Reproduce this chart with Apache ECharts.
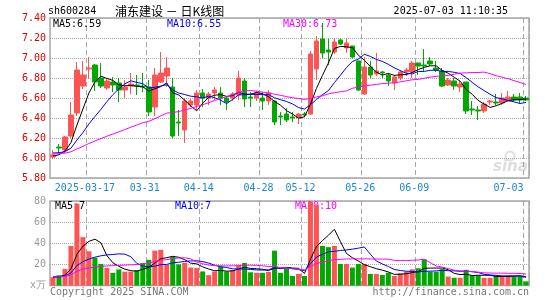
<!DOCTYPE html>
<html><head><meta charset="utf-8">
<script src="https://cdn.jsdelivr.net/npm/echarts@6/dist/echarts.min.js"></script>
<style>html,body{margin:0;padding:0;background:#fff}#c{width:545px;height:300px}</style>
</head><body><div id="c"></div>
<script>
const dates = ['2025-03-07','2025-03-10','2025-03-11','2025-03-12','2025-03-13','2025-03-14','2025-03-17','2025-03-18','2025-03-19','2025-03-20',
'2025-03-21','2025-03-24','2025-03-25','2025-03-26','2025-03-27','2025-03-28','2025-03-31','2025-04-01','2025-04-02','2025-04-03',
'2025-04-07','2025-04-08','2025-04-09','2025-04-10','2025-04-11','2025-04-14','2025-04-15','2025-04-16','2025-04-17','2025-04-18',
'2025-04-21','2025-04-22','2025-04-23','2025-04-24','2025-04-25','2025-04-28','2025-04-29','2025-04-30','2025-05-06','2025-05-07',
'2025-05-08','2025-05-09','2025-05-12','2025-05-13','2025-05-14','2025-05-15','2025-05-16','2025-05-19','2025-05-20','2025-05-21',
'2025-05-22','2025-05-23','2025-05-26','2025-05-27','2025-05-28','2025-05-29','2025-05-30','2025-06-03','2025-06-04','2025-06-05',
'2025-06-06','2025-06-09','2025-06-10','2025-06-11','2025-06-12','2025-06-13','2025-06-16','2025-06-17','2025-06-18','2025-06-19',
'2025-06-20','2025-06-23','2025-06-24','2025-06-25','2025-06-26','2025-06-27','2025-06-30','2025-07-01','2025-07-02','2025-07-03'];

const opens = [6.01,6.11,6.08,6.22,6.45,6.72,6.89,6.93,6.80,6.70,
 6.76,6.75,6.68,6.72,6.73,6.72,6.71,6.51,6.76,6.82,
 6.71,6.36,6.28,6.53,6.53,6.65,6.60,6.65,6.65,6.60,
 6.60,6.63,6.77,6.61,6.60,6.60,6.57,6.57,6.42,6.44,
 6.41,6.40,6.44,6.44,6.89,7.19,7.08,7.06,7.18,7.10,
 7.12,6.97,6.64,6.91,6.84,6.86,6.83,6.75,6.80,6.86,
 6.86,6.95,6.93,6.97,6.90,6.87,6.73,6.77,6.71,6.76,
 6.49,6.48,6.47,6.56,6.56,6.55,6.57,6.61,6.61,6.60];
const closes = [6.03,6.10,6.21,6.43,6.88,6.83,6.90,6.76,6.72,6.77,
 6.73,6.68,6.71,6.74,6.72,6.71,6.46,6.83,6.85,6.90,
 6.22,6.35,6.57,6.57,6.65,6.60,6.64,6.68,6.60,6.56,
 6.64,6.80,6.59,6.60,6.65,6.57,6.65,6.36,6.41,6.38,
 6.40,6.44,6.43,7.04,7.17,7.05,7.06,7.16,7.14,7.15,
 7.01,6.68,6.91,6.83,6.87,6.85,6.77,6.81,6.86,6.88,
 6.95,6.92,6.92,6.94,6.88,6.72,6.78,6.72,6.74,6.47,
 6.48,6.47,6.54,6.57,6.55,6.60,6.61,6.58,6.58,6.58];
const highs = [6.08,6.14,6.22,6.56,6.96,6.97,7.01,6.94,6.95,6.79,
 6.81,6.80,6.78,6.85,6.83,6.85,6.78,6.90,7.06,7.01,
 6.80,6.48,6.60,6.59,6.68,6.69,6.66,6.71,6.71,6.61,
 6.66,6.87,6.80,6.66,6.67,6.66,6.68,6.58,6.46,6.50,
 6.46,6.45,6.46,7.07,7.22,7.35,7.19,7.20,7.19,7.19,
 7.12,6.97,7.01,6.97,7.05,6.87,6.85,6.83,6.88,6.90,
 6.97,6.95,7.09,7.01,6.97,6.90,6.80,6.80,6.77,6.76,
 6.57,6.52,6.56,6.58,6.64,6.65,6.67,6.64,6.65,6.62];
const lows = [5.99,6.05,6.05,6.20,6.42,6.69,6.79,6.67,6.70,6.68,
 6.66,6.56,6.60,6.64,6.63,6.66,6.42,6.42,6.75,6.71,
 6.20,6.22,6.15,6.51,6.48,6.51,6.53,6.58,6.53,6.48,
 6.57,6.58,6.51,6.51,6.57,6.48,6.53,6.33,6.33,6.36,
 6.36,6.34,6.41,6.43,6.78,7.00,6.93,7.04,7.13,7.05,
 7.00,6.67,6.63,6.80,6.82,6.80,6.72,6.68,6.78,6.82,
 6.80,6.83,6.87,6.92,6.86,6.71,6.72,6.68,6.66,6.44,
 6.43,6.38,6.45,6.53,6.53,6.53,6.57,6.57,6.55,6.57];
const volumes = [7.8,9.7,15.7,37.4,77.5,45.8,32.4,26.3,20.4,16.6,
 12.0,15.2,13.1,13.1,14.5,21.2,24.3,33.0,33.8,19.5,
 27.5,20.0,21.5,17.0,16.5,13.3,9.8,13.3,18.3,13.3,
 14.5,19.0,21.3,12.5,12.0,12.0,12.8,33.0,12.0,16.0,
 9.0,11.0,9.0,79.0,76.0,37.5,36.3,37.5,20.4,20.4,
 17.0,20.4,20.4,10.9,10.9,9.9,12.1,9.0,11.5,13.1,
 15.3,16.3,24.8,13.1,13.0,15.5,8.5,7.3,7.3,14.8,
 9.5,9.5,7.2,7.2,9.3,9.5,9.5,8.0,8.3,3.9];
// closes / volumes before the first visible day (estimated from where the MA lines start)
const prevCloses = [6.02,6.05,6.01,6.04,6.06,6.03,6.00,6.02,6.05,6.07,6.04,6.01,6.03,6.06,6.04,6.02,6.05,6.03,6.04,6.04,6.07,6.10,6.09,6.06,6.08,6.04,6.02,6.01,6.00];
const prevVolumes = [8.5,7.9,9.2,8.1,7.6,8.8,9.0,7.4,8.3,7.7,8.6,8.0,7.5,8.9,8.2,7.8,8.4,7.6,8.1];

const tickDates = ['2025-03-17','2025-03-31','2025-04-14','2025-04-28','2025-05-12','2025-05-26','2025-06-09','2025-07-03'];
const tickTexts = ['2025-03-17','03-31','04-14','04-28','05-12','05-26','06-09','07-03'];
const priceLegend = ['MA5:6.59','MA10:6.55','MA30:6.73'];
const volLegend = ['MA5:7','MA10:7','MA20:10'];
const headerCode = 'sh600284';
const headerTitle = '浦东建设 － 日K线图';
const headerTime = '2025-07-03 11:10:35';
const volUnit = 'x万';

function ma(n, prev, vals){
  const all = prev.concat(vals), off = prev.length;
  return vals.map((_, i) => {
    const j = i + off;
    if (j - n + 1 < 0) return '-';
    let s = 0; for (let k = j - n + 1; k <= j; k++) s += all[k];
    return +(s / n).toFixed(4);
  });
}

const MONO = '"DejaVu Sans Mono", monospace';
const UP = '#ff5454', DOWN = '#00a800';
const GRIDC = '#a8a8a8';
const isTick = (idx, val) => tickDates.indexOf(val) >= 0;

const chart = echarts.init(document.getElementById('c'), null, {renderer: 'canvas'});
const xBase = {
  type: 'category', data: dates, boundaryGap: true,
  axisLine: {show: false}, axisTick: {show: false},
  splitLine: {show: true, interval: isTick, lineStyle: {color: GRIDC, type: [5, 3], width: 1}}
};
const lineS = (data, color, xi, yi) => ({type: 'line', data, xAxisIndex: xi, yAxisIndex: yi, showSymbol: false, symbol: 'none', silent: true,
  lineStyle: {color, width: 1}, z: 5});

chart.setOption({
  animation: false,
  backgroundColor: '#fff',
  grid: [
    {left: 50, top: 18, width: 479, height: 160, show: true, borderColor: GRIDC, borderWidth: 1.5, outerBoundsMode: 'none', containLabel: false},
    {left: 50, top: 201, width: 479, height: 84.5, show: true, borderColor: GRIDC, borderWidth: 1.5, outerBoundsMode: 'none', containLabel: false}
  ],
  xAxis: [
    Object.assign({}, xBase, {gridIndex: 0, axisLabel: {
      interval: isTick, color: '#1a88d0', fontFamily: MONO, fontSize: 10, margin: 5, padding: [0, 8, 0, 0],
      formatter: v => { const k = tickDates.indexOf(v); return k === tickDates.length - 1 ? '{last|' + tickTexts[k] + '}' : tickTexts[k]; },
      rich: {last: {color: '#1a88d0', fontFamily: MONO, fontSize: 10, padding: [0, 27, 0, 0]}}
    }}),
    Object.assign({}, xBase, {gridIndex: 1, axisLabel: {show: false}})
  ],
  yAxis: [
    {type: 'value', gridIndex: 0, min: 5.8, max: 7.4, interval: 0.2, scale: true,
     axisLine: {show: false}, axisTick: {show: false},
     axisLabel: {color: '#e00000', fontFamily: MONO, fontSize: 10, margin: 4, formatter: v => v.toFixed(2)},
     splitLine: {lineStyle: {color: GRIDC, type: 'dotted', width: 1}}},
    {type: 'value', gridIndex: 1, min: 0, max: 80, interval: 20,
     axisLine: {show: false}, axisTick: {show: false},
     axisLabel: {color: '#999', fontFamily: MONO, fontSize: 10, margin: 4, formatter: v => v === 0 ? volUnit : String(v)},
     splitLine: {lineStyle: {color: GRIDC, type: 'dotted', width: 1}}}
  ],
  series: [
    {type: 'candlestick', xAxisIndex: 0, yAxisIndex: 0, barWidth: 5, silent: true,
     data: dates.map((d, i) => [opens[i], closes[i], lows[i], highs[i]]),
     itemStyle: {color: UP, color0: DOWN, borderColor: UP, borderColor0: DOWN, borderWidth: 1}},
    lineS(ma(5, prevCloses, closes), '#000000', 0, 0),
    lineS(ma(10, prevCloses, closes), '#0000ff', 0, 0),
    lineS(ma(30, prevCloses, closes), '#ff00ff', 0, 0),
    {type: 'bar', xAxisIndex: 1, yAxisIndex: 1, barWidth: 5, silent: true,
     data: volumes.map((v, i) => ({value: v, itemStyle: {color: closes[i] > opens[i] ? UP : DOWN}}))},
    lineS(ma(5, prevVolumes, volumes), '#000000', 1, 1),
    lineS(ma(10, prevVolumes, volumes), '#0000ff', 1, 1),
    lineS(ma(20, prevVolumes, volumes), '#ff00ff', 1, 1)
  ],
  graphic: [
    {type: 'text', x: 48, y: 11, style: {text: headerCode, font: '10px ' + MONO, fill: '#000', textVerticalAlign: 'middle'}},
    {type: 'text', x: 115, y: 11, style: {text: headerTitle, font: '12px "Noto Sans CJK SC"', fill: '#000', textVerticalAlign: 'middle'}},
    {type: 'text', x: 508, y: 11, style: {text: headerTime, font: '10px ' + MONO, fill: '#000', textAlign: 'right', textVerticalAlign: 'middle'}},
    {type: 'text', x: 53, y: 24, z: 1, style: {text: priceLegend[0], font: '10px ' + MONO, fill: '#000', textVerticalAlign: 'middle'}},
    {type: 'text', x: 167, y: 24, z: 1, style: {text: priceLegend[1], font: '10px ' + MONO, fill: '#0000ff', textVerticalAlign: 'middle'}},
    {type: 'text', x: 283, y: 24, z: 1, style: {text: priceLegend[2], font: '10px ' + MONO, fill: '#ff00ff', textVerticalAlign: 'middle'}},
    {type: 'text', x: 55, y: 206, z: 1, style: {text: volLegend[0], font: '10px ' + MONO, fill: '#000', textVerticalAlign: 'middle'}},
    {type: 'text', x: 175, y: 206, z: 1, style: {text: volLegend[1], font: '10px ' + MONO, fill: '#0000ff', textVerticalAlign: 'middle'}},
    {type: 'text', x: 295, y: 206, z: 1, style: {text: volLegend[2], font: '10px ' + MONO, fill: '#ff00ff', textVerticalAlign: 'middle'}},
    {type: 'text', x: 50, y: 292, style: {text: 'Copyright 2025 SINA.COM', font: '10px ' + MONO, fill: '#777', textVerticalAlign: 'middle'}},
    {type: 'text', x: 529, y: 292, style: {text: 'http://finance.sina.com.cn', font: '10px ' + MONO, fill: '#777', textAlign: 'right', textVerticalAlign: 'middle'}},
    {type: 'circle', z: 0, shape: {cx: 510, cy: 156, r: 4.5}, style: {fill: 'none', stroke: '#e0e0e0', lineWidth: 2}},
    {type: 'text', x: 493, y: 167, z: 0, style: {text: 'sina', font: 'italic bold 15px "DejaVu Sans"', fill: '#dedede', textVerticalAlign: 'middle'}}
  ]
});
</script>
</body></html>
